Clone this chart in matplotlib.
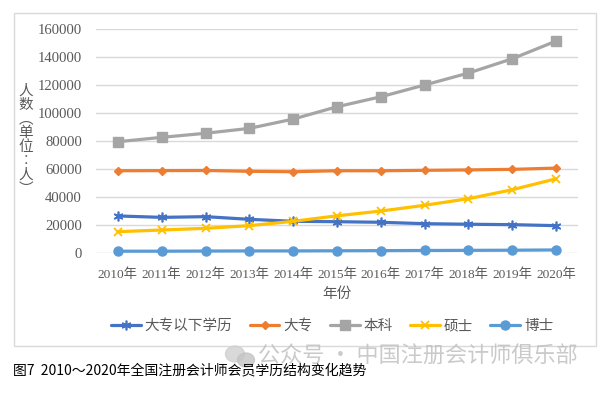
import matplotlib
matplotlib.use("Agg")
import matplotlib.pyplot as plt
from matplotlib.patches import Rectangle, Ellipse

years = ["2010年", "2011年", "2012年", "2013年", "2014年", "2015年",
         "2016年", "2017年", "2018年", "2019年", "2020年"]
below_college = [26600, 25600, 26100, 24200, 22800, 22500, 22100, 21100, 20700, 20400, 19700]
college = [58800, 58900, 59000, 58400, 58100, 58800, 58800, 59100, 59400, 59800, 60700]
bachelor = [79500, 82600, 85500, 89000, 95600, 104400, 111500, 119900, 128400, 138600, 151200]
master = [15400, 16600, 17800, 19700, 22800, 26700, 30100, 34200, 38900, 45300, 53100]
doctor = [1500, 1500, 1600, 1700, 1700, 1800, 1900, 2000, 2100, 2200, 2400]
series_names = ["大专以下学历", "大专", "本科", "硕士", "博士"]
yticks = [0, 20000, 40000, 60000, 80000, 100000, 120000, 140000, 160000]

W, H = 603, 394
fig = plt.figure(figsize=(W / 100, H / 100), dpi=100)

cjk = ["Noto Sans CJK SC", "DejaVu Sans"]
serif = ["Liberation Serif", "Noto Sans CJK SC"]
gray = "#595959"

# outer chart border
fig.patches.append(Rectangle((13.5 / W, 1 - 345.5 / H), (596 - 13.5) / W, (345.5 - 13) / H,
                             transform=fig.transFigure, fill=False,
                             edgecolor="#d9d9d9", linewidth=1.0, zorder=0))

ax = fig.add_axes([96 / W, 1 - 253.3 / H, (578 - 96) / W, (253.3 - 28.7) / H])
x = list(range(len(years)))

styles = [
    (below_college, "#4472C4", (6, 2, 0), 7, 1.2),
    (college, "#ED7D31", "D", 4.5, 1.0),
    (bachelor, "#A5A5A5", "s", 6.5, 1.0),
    (master, "#FFC000", "x", 6, 1.3),
    (doctor, "#5B9BD5", "o", 6.5, 1.0),
]
for (vals, color, marker, ms, mew), name in zip(styles, series_names):
    ax.plot(x, vals, color=color, linewidth=2.3, marker=marker, markersize=ms,
            markeredgewidth=mew, markeredgecolor=color, markerfacecolor=color,
            label=name, clip_on=False, solid_capstyle="round")

ax.set_xlim(-0.5, len(years) - 0.5)
ax.set_ylim(0, 160000)
ax.set_yticks(yticks)
ax.set_yticklabels([str(v) for v in yticks], family=serif, fontsize=10.6, color=gray)
ax.set_xticks(x)
ax.set_xticklabels(years, family=serif, fontsize=9.6, color=gray)
ax.tick_params(axis="both", length=0)
ax.tick_params(axis="y", pad=10)
ax.tick_params(axis="x", pad=11)
ax.grid(axis="y", color="#d9d9d9", linewidth=1.0)
ax.set_axisbelow(True)
for s in ax.spines.values():
    s.set_visible(False)

fig.text(336.5 / W, 1 - 294 / H, "年份", family=cjk, fontsize=10.5, color=gray,
         ha="center", va="center")
fig.text(25.5 / W, 1 - 140 / H, "\n".join("人数︵单位︰人︶"), family=cjk, fontsize=10.5,
         color=gray, ha="center", va="center", linespacing=1.0)

leg = fig.legend(loc="center", bbox_to_anchor=(332 / W, 1 - 326 / H), ncol=5,
                 frameon=False, prop={"family": cjk, "size": 10.5},
                 handlelength=2.05, handletextpad=0.25, columnspacing=1.2,
                 borderaxespad=0, borderpad=0)
for t in leg.get_texts():
    t.set_color(gray)

# watermark
fig.patches.append(Ellipse((235 / W, 1 - 354 / H), 19 / W, 16 / H, transform=fig.transFigure,
                           color="#d0d0d0", alpha=0.8, zorder=1))
fig.patches.append(Ellipse((246 / W, 1 - 360 / H), 17 / W, 14 / H, transform=fig.transFigure,
                           color="#c4c4c4", alpha=0.8, zorder=1))
fig.text(258 / W, 1 - 357 / H, "公众号 · 中国注册会计师俱乐部", family=cjk, fontsize=15.9,
         color="#bdbdbd", alpha=0.8, ha="left", va="center", zorder=1)

fig.text(13 / W, 1 - 370 / H, "图7  2010～2020年全国注册会计师会员学历结构变化趋势",
         family=cjk, fontsize=10.0, color="black", ha="left", va="center", zorder=5)

fig.savefig("out.png", dpi=100)
